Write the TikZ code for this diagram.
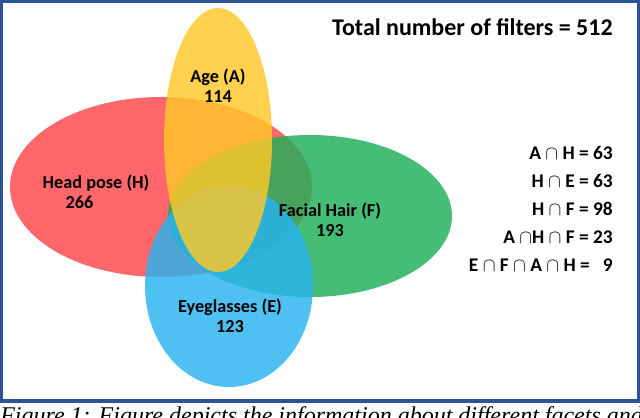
\documentclass[tikz,border=0pt]{standalone}
\usepackage{fontspec}
\setmainfont{Carlito}
\newfontfamily\capfont{Liberation Serif}
\begin{document}
\begin{tikzpicture}[x=0.75pt,y=-0.75pt,
  lbl/.style={font=\bfseries\fontsize{13.7}{15}\selectfont, align=center, inner sep=0},
  ell/.style={fill opacity=0.82, draw=none}]
\useasboundingbox (0,0) rectangle (640,418);
\clip (0,0) rectangle (640,418);
\fill[white] (0,0) rectangle (640,418);
\draw[line width=2.5pt, draw={rgb,255:red,47;green,84;blue,150}] (1.5,1.5) rectangle (638.5,401);
\fill[ell, fill={rgb,255:red,255;green,70;blue,75}] (161,187) ellipse [x radius=151, y radius=90];
\fill[ell, fill={rgb,255:red,30;green,175;blue,90}] (310,216) ellipse [x radius=142, y radius=81];
\fill[ell, fill={rgb,255:red,40;green,180;blue,240}] (229,286) ellipse [x radius=84, y radius=101];
\fill[ell, fill={rgb,255:red,255;green,200;blue,40}] (218,140) ellipse [x radius=54, y radius=132];
\node[lbl] (a) at (218,86) {Age (A)\\114};
\node[lbl] (h) at (96,192) {Head pose (H)\\\hspace*{-1.8em}266};
\node[lbl] (f) at (330,220) {Facial Hair (F)\\193};
\node[lbl] (e) at (230,316) {Eyeglasses (E)\\123};
\node[lbl, anchor=east, font=\bfseries\fontsize{18}{20}\selectfont] (t) at (613,27) {Total number of filters = 512};
\node[lbl, anchor=east, align=right, font=\bfseries\fontsize{14.5}{21}\selectfont] (s) at (613,209)
 {A $\cap$ H = 63\\H $\cap$ E = 63\\H $\cap$ F = 98\\A $\cap$H $\cap$ F = 23\\E $\cap$ F $\cap$ A $\cap$ H =\ \ \ 9};
\node[anchor=north west, inner sep=0, font=\capfont\itshape\fontsize{18}{20}\selectfont] (c) at (0,406)
 {Figure 1: Figure depicts the information about different facets and};
\end{tikzpicture}
\end{document}
